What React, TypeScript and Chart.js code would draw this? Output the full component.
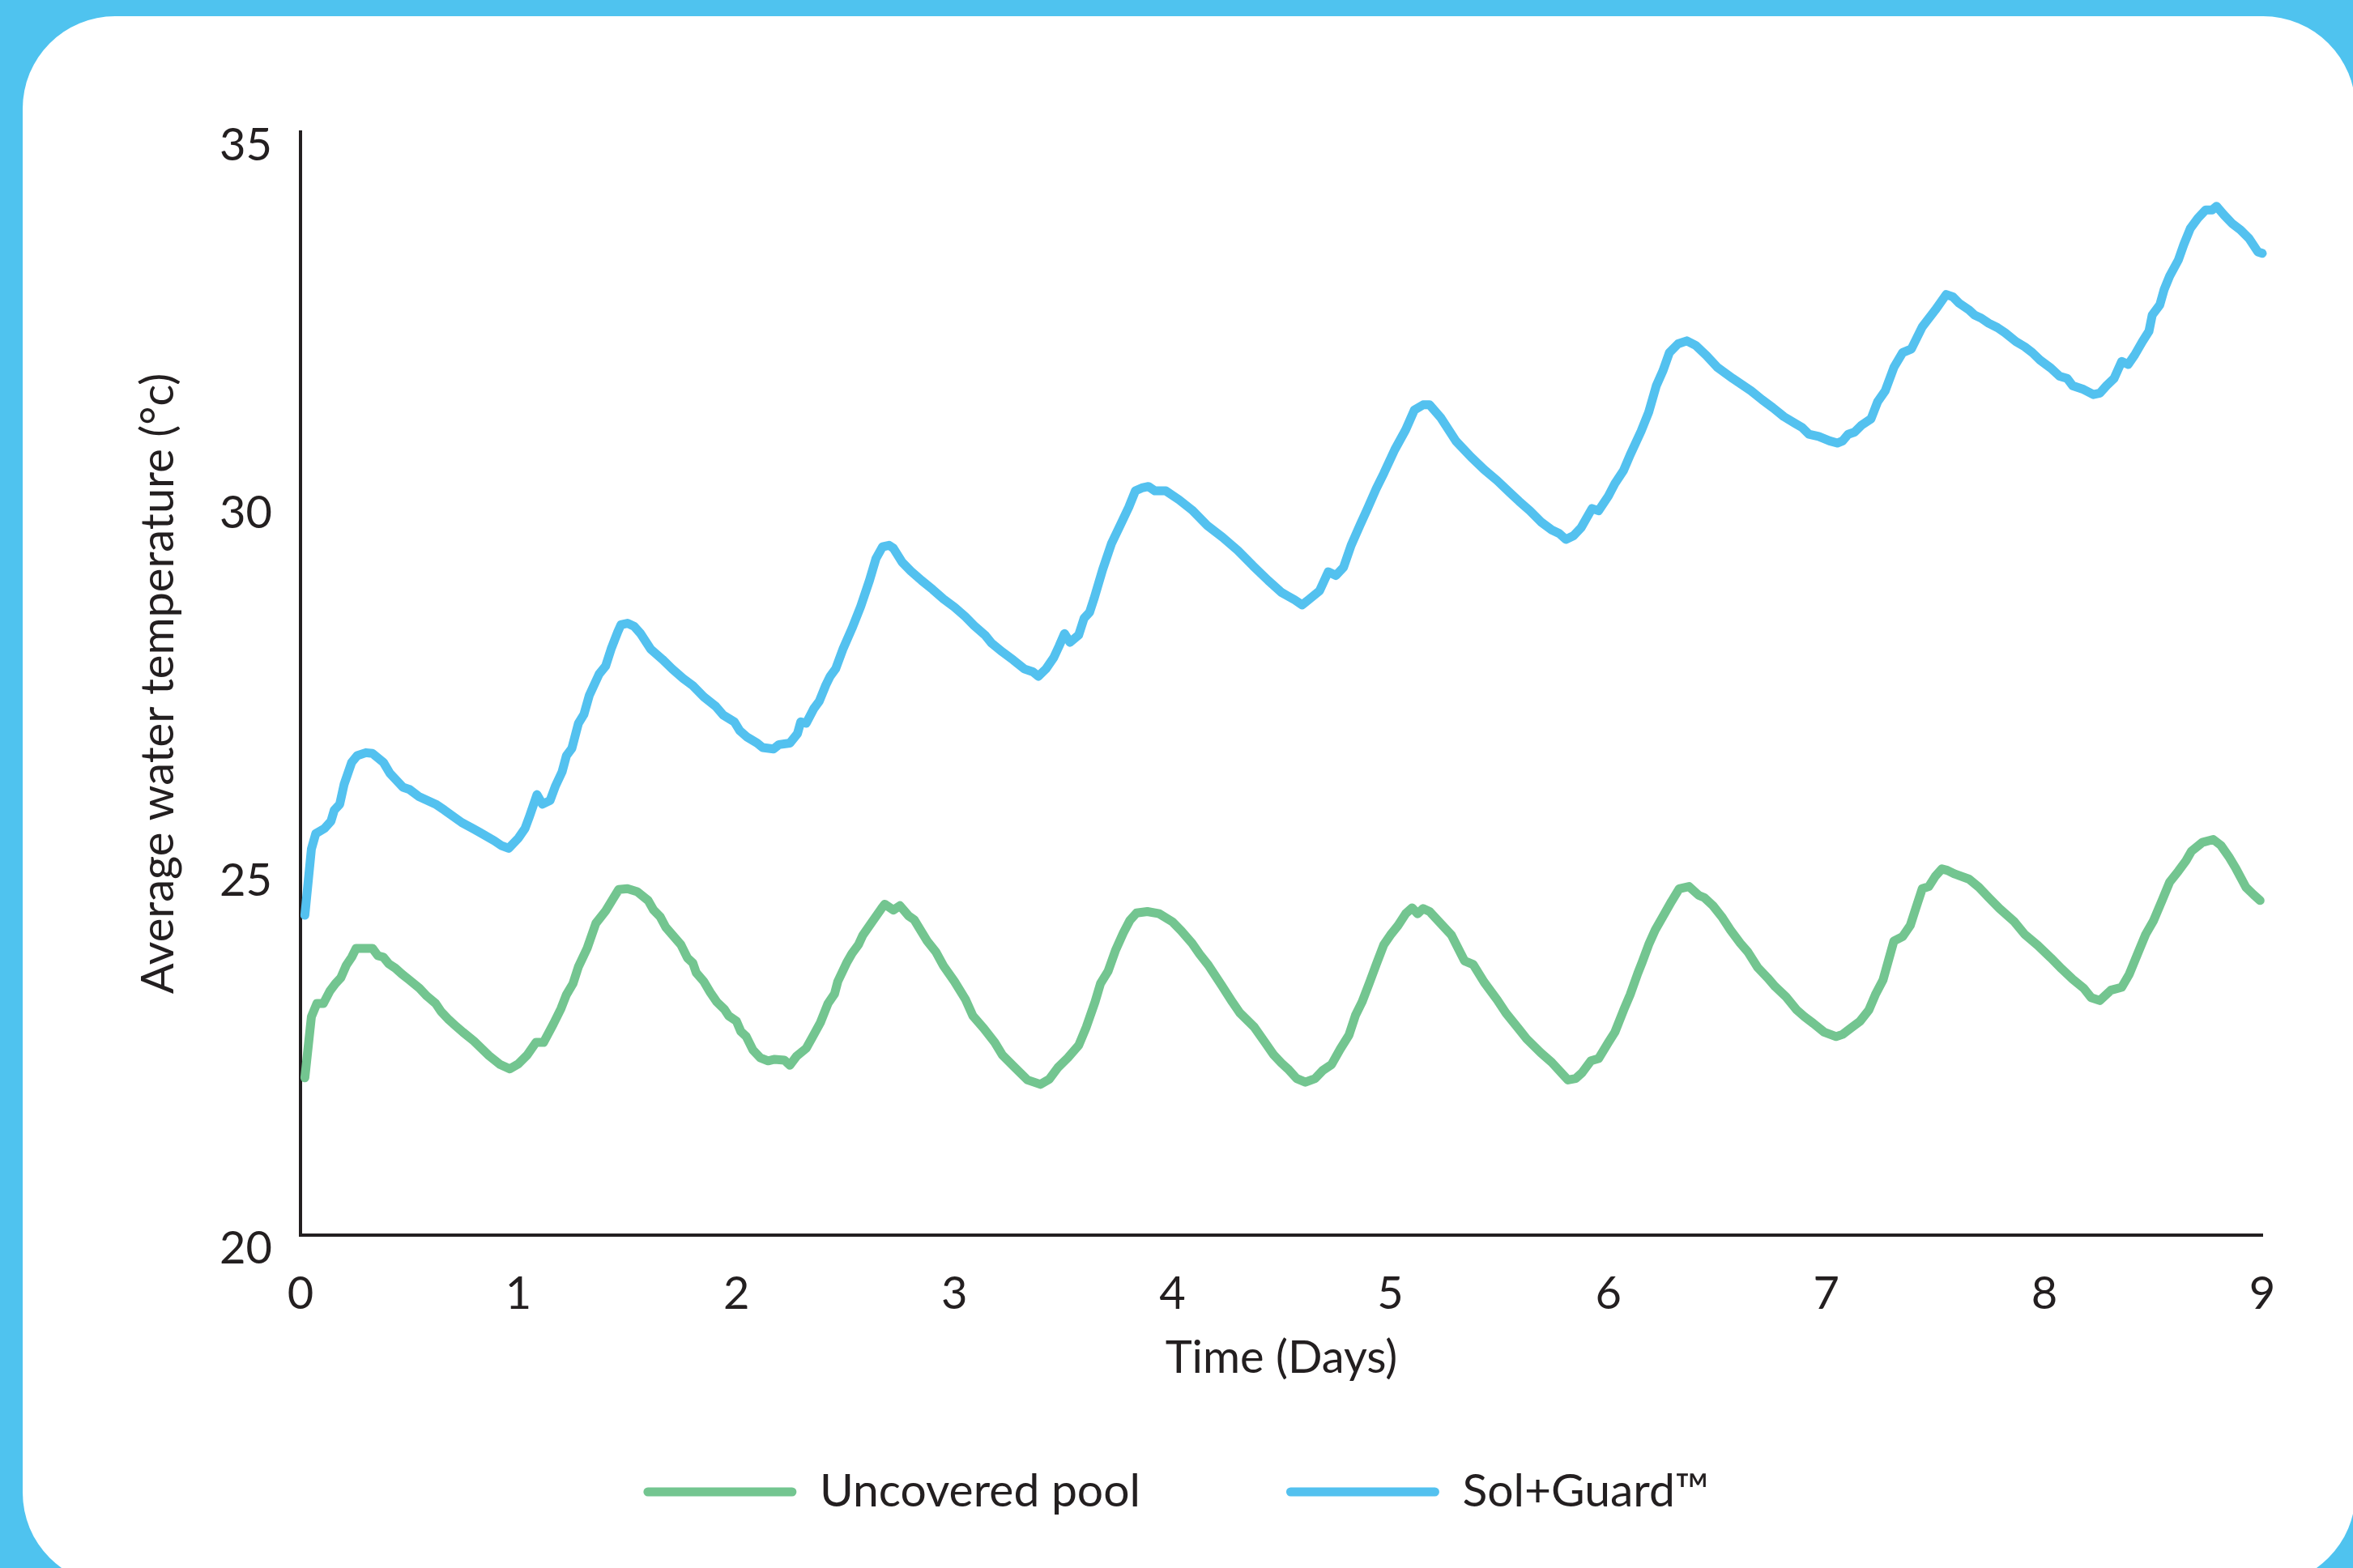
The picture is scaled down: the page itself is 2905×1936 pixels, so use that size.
import React, { useEffect, useRef } from "react";
import { Chart, registerables } from "chart.js";

Chart.register(...registerables);

// Time (days) and average water temperature (°C)
const solGuardDays = [
  0.02, 0.05, 0.07, 0.11, 0.14, 0.155, 0.18, 0.2, 0.235, 0.26, 0.3, 0.33, 0.38, 0.41, 0.47, 0.5, 0.545, 0.62, 0.66, 0.74,
  0.79, 0.82, 0.89, 0.92, 0.955, 1.0, 1.03, 1.05, 1.085, 1.11, 1.145, 1.17, 1.2, 1.22, 1.245, 1.275, 1.3, 1.325, 1.37, 1.4,
  1.425, 1.455, 1.47, 1.5, 1.53, 1.56, 1.606, 1.66, 1.705, 1.755, 1.8, 1.85, 1.905, 1.94, 1.99, 2.015, 2.05, 2.095, 2.12, 2.17,
  2.195, 2.245, 2.28, 2.295, 2.32, 2.355, 2.38, 2.41, 2.43, 2.455, 2.49, 2.53, 2.57, 2.61, 2.64, 2.67, 2.7, 2.72, 2.76, 2.8,
  2.85, 2.9, 2.95, 3.0, 3.05, 3.09, 3.14, 3.17, 3.22, 3.27, 3.32, 3.36, 3.385, 3.42, 3.455, 3.48, 3.505, 3.53, 3.57, 3.595,
  3.62, 3.64, 3.68, 3.72, 3.76, 3.8, 3.83, 3.86, 3.89, 3.92, 3.97, 4.03, 4.09, 4.16, 4.23, 4.3, 4.37, 4.44, 4.5, 4.53,
  4.56, 4.595, 4.625, 4.675, 4.715, 4.75, 4.785, 4.82, 4.86, 4.895, 4.935, 4.97, 5.02, 5.07, 5.11, 5.15, 5.18, 5.23, 5.3, 5.37,
  5.43, 5.49, 5.55, 5.59, 5.64, 5.69, 5.74, 5.775, 5.805, 5.84, 5.875, 5.925, 5.955, 6.0, 6.03, 6.07, 6.1, 6.15, 6.185, 6.22,
  6.25, 6.28, 6.32, 6.36, 6.4, 6.45, 6.5, 6.57, 6.655, 6.705, 6.755, 6.805, 6.855, 6.89, 6.92, 6.965, 7.015, 7.05, 7.075, 7.1,
  7.13, 7.16, 7.205, 7.235, 7.27, 7.31, 7.35, 7.39, 7.44, 7.5, 7.55, 7.58, 7.61, 7.655, 7.68, 7.71, 7.745, 7.785, 7.82, 7.87,
  7.91, 7.945, 7.98, 8.03, 8.07, 8.105, 8.13, 8.18, 8.225, 8.255, 8.285, 8.32, 8.355, 8.385, 8.415, 8.45, 8.48, 8.495, 8.53, 8.55,
  8.575, 8.615, 8.64, 8.67, 8.705, 8.74, 8.77, 8.79, 8.825, 8.86, 8.9, 8.94, 8.98, 9.0,
];
const solGuardTemps = [
  24.35, 25.25, 25.46, 25.53, 25.63, 25.78, 25.86, 26.13, 26.43, 26.52, 26.56, 26.55, 26.43, 26.28, 26.09, 26.06, 25.96, 25.86, 25.78, 25.61,
  25.53, 25.48, 25.36, 25.3, 25.26, 25.4, 25.53, 25.69, 25.99, 25.86, 25.91, 26.11, 26.3, 26.52, 26.62, 26.96, 27.08, 27.34, 27.63, 27.74,
  27.97, 28.2, 28.3, 28.32, 28.28, 28.18, 27.97, 27.83, 27.7, 27.57, 27.47, 27.32, 27.19, 27.07, 26.98, 26.86, 26.77, 26.69, 26.63, 26.61,
  26.67, 26.69, 26.82, 26.98, 26.96, 27.16, 27.26, 27.48, 27.6, 27.7, 27.98, 28.25, 28.55, 28.9, 29.2, 29.36, 29.38, 29.34, 29.15, 29.03,
  28.9, 28.78, 28.65, 28.54, 28.41, 28.29, 28.16, 28.05, 27.93, 27.82, 27.7, 27.66, 27.6, 27.7, 27.85, 28.01, 28.18, 28.06, 28.16, 28.39,
  28.47, 28.65, 29.05, 29.4, 29.65, 29.9, 30.12, 30.16, 30.18, 30.12, 30.12, 30.0, 29.86, 29.65, 29.49, 29.31, 29.1, 28.9, 28.74, 28.69,
  28.64, 28.57, 28.64, 28.76, 29.02, 28.97, 29.08, 29.38, 29.65, 29.88, 30.15, 30.36, 30.68, 30.95, 31.22, 31.29, 31.29, 31.12, 30.8, 30.58,
  30.41, 30.26, 30.09, 29.98, 29.85, 29.7, 29.59, 29.54, 29.46, 29.51, 29.62, 29.88, 29.85, 30.05, 30.22, 30.4, 30.61, 30.93, 31.19, 31.55,
  31.75, 32.0, 32.12, 32.16, 32.1, 31.96, 31.8, 31.65, 31.48, 31.36, 31.25, 31.13, 31.04, 30.98, 30.89, 30.86, 30.8, 30.77, 30.8, 30.89,
  30.92, 31.01, 31.1, 31.33, 31.48, 31.8, 32.0, 32.05, 32.35, 32.58, 32.79, 32.76, 32.67, 32.58, 32.51, 32.47, 32.4, 32.34, 32.27, 32.15,
  32.08, 32.0, 31.9, 31.79, 31.68, 31.65, 31.55, 31.5, 31.43, 31.45, 31.55, 31.65, 31.88, 31.84, 31.97, 32.15, 32.29, 32.51, 32.65, 32.86,
  33.04, 33.26, 33.47, 33.69, 33.83, 33.94, 33.94, 33.99, 33.87, 33.76, 33.67, 33.55, 33.37, 33.35,
];

const uncoveredDays = [
  0.02, 0.05, 0.075, 0.105, 0.135, 0.16, 0.185, 0.21, 0.235, 0.255, 0.3, 0.33, 0.355, 0.38, 0.405, 0.435, 0.465, 0.495, 0.545, 0.58,
  0.62, 0.645, 0.68, 0.71, 0.745, 0.795, 0.865, 0.915, 0.96, 1.0, 1.04, 1.08, 1.115, 1.16, 1.195, 1.22, 1.25, 1.275, 1.315, 1.355,
  1.4, 1.435, 1.46, 1.5, 1.545, 1.595, 1.62, 1.65, 1.675, 1.745, 1.775, 1.8, 1.815, 1.85, 1.88, 1.91, 1.945, 1.965, 2.0, 2.02,
  2.045, 2.075, 2.11, 2.145, 2.175, 2.22, 2.245, 2.275, 2.32, 2.35, 2.385, 2.42, 2.45, 2.465, 2.505, 2.53, 2.56, 2.58, 2.62, 2.665,
  2.68, 2.72, 2.75, 2.79, 2.815, 2.85, 2.875, 2.915, 2.95, 3.0, 3.05, 3.085, 3.135, 3.185, 3.22, 3.27, 3.335, 3.395, 3.435, 3.475,
  3.52, 3.57, 3.605, 3.645, 3.67, 3.705, 3.74, 3.775, 3.805, 3.835, 3.885, 3.94, 4.0, 4.04, 4.09, 4.125, 4.165, 4.225, 4.275, 4.31,
  4.375, 4.425, 4.465, 4.5, 4.53, 4.57, 4.61, 4.655, 4.69, 4.73, 4.77, 4.81, 4.84, 4.87, 4.905, 4.935, 4.97, 5.0, 5.035, 5.07,
  5.1, 5.125, 5.15, 5.18, 5.23, 5.28, 5.34, 5.38, 5.43, 5.49, 5.53, 5.59, 5.625, 5.69, 5.74, 5.79, 5.815, 5.85, 5.88, 5.92,
  5.955, 6.0, 6.03, 6.07, 6.1, 6.135, 6.155, 6.185, 6.215, 6.25, 6.29, 6.325, 6.37, 6.415, 6.44, 6.48, 6.52, 6.56, 6.605, 6.64,
  6.685, 6.73, 6.765, 6.815, 6.865, 6.9, 6.94, 6.99, 7.045, 7.075, 7.115, 7.155, 7.195, 7.225, 7.26, 7.31, 7.35, 7.385, 7.41, 7.44,
  7.47, 7.5, 7.53, 7.555, 7.59, 7.655, 7.7, 7.745, 7.795, 7.86, 7.91, 7.97, 8.03, 8.08, 8.13, 8.18, 8.215, 8.255, 8.305, 8.355,
  8.39, 8.43, 8.465, 8.5, 8.54, 8.575, 8.615, 8.65, 8.675, 8.725, 8.775, 8.81, 8.85, 8.88, 8.925, 8.96, 8.99,
];
const uncoveredTemps = [
  22.14, 22.97, 23.15, 23.15, 23.32, 23.42, 23.5, 23.67, 23.78, 23.9, 23.9, 23.9, 23.8, 23.78, 23.69, 23.63, 23.55, 23.48, 23.36, 23.25,
  23.15, 23.04, 22.93, 22.85, 22.76, 22.64, 22.44, 22.32, 22.26, 22.33, 22.45, 22.62, 22.62, 22.87, 23.08, 23.27, 23.42, 23.65, 23.9, 24.24,
  24.41, 24.58, 24.7, 24.71, 24.67, 24.55, 24.42, 24.33, 24.19, 23.95, 23.77, 23.7, 23.57, 23.45, 23.3, 23.17, 23.07, 22.98, 22.91, 22.77,
  22.7, 22.52, 22.41, 22.37, 22.39, 22.38, 22.31, 22.43, 22.54, 22.7, 22.89, 23.15, 23.28, 23.45, 23.7, 23.83, 23.95, 24.08, 24.25, 24.44,
  24.5, 24.42, 24.48, 24.34, 24.29, 24.12, 24.0, 23.85, 23.66, 23.45, 23.21, 22.98, 22.81, 22.62, 22.45, 22.3, 22.11, 22.05, 22.12, 22.28,
  22.41, 22.58, 22.83, 23.17, 23.42, 23.59, 23.88, 24.11, 24.28, 24.38, 24.4, 24.37, 24.26, 24.14, 23.97, 23.82, 23.67, 23.4, 23.17, 23.02,
  22.83, 22.62, 22.45, 22.34, 22.26, 22.13, 22.08, 22.13, 22.24, 22.32, 22.53, 22.72, 22.99, 23.17, 23.44, 23.68, 23.95, 24.08, 24.21, 24.37,
  24.45, 24.37, 24.44, 24.4, 24.24, 24.08, 23.73, 23.68, 23.44, 23.2, 23.02, 22.8, 22.67, 22.48, 22.35, 22.19, 22.11, 22.13, 22.21, 22.37,
  22.4, 22.62, 22.76, 23.06, 23.27, 23.56, 23.71, 23.95, 24.15, 24.33, 24.54, 24.71, 24.74, 24.62, 24.59, 24.48, 24.33, 24.15, 23.97, 23.85,
  23.64, 23.5, 23.38, 23.24, 23.06, 22.97, 22.88, 22.76, 22.7, 22.73, 22.82, 22.91, 23.06, 23.27, 23.47, 24.0, 24.06, 24.21, 24.44, 24.71,
  24.74, 24.88, 24.98, 24.96, 24.91, 24.84, 24.73, 24.59, 24.44, 24.27, 24.09, 23.94, 23.77, 23.62, 23.48, 23.36, 23.23, 23.19, 23.33, 23.37,
  23.55, 23.84, 24.09, 24.27, 24.55, 24.8, 24.95, 25.09, 25.22, 25.34, 25.38, 25.3, 25.13, 24.98, 24.73, 24.63, 24.55,
];

const xTickValues = [0, 1, 2, 3, 4, 5, 6, 7, 8, 9];
const yTickValues = [20, 25, 30, 35];

const seriesLabels = ["Uncovered pool", "Sol+Guard™"];
const xTitle = "Time (Days)";
const yTitle = "Average water temperature (°c)";

const W = 2905;
const H = 1936;
const FRAME_BLUE = "#4FC3EF";
const LINE_BLUE = "#53C1EF";
const GREEN = "#73C590";
const INK = "#231F20";
const FAMILY = "Lato";

export default function App() {
  const ref = useRef<HTMLCanvasElement | null>(null);

  useEffect(() => {
    document.body.style.margin = "0";
    const canvas = ref.current;
    if (!canvas) return;

    const framePlugin = {
      id: "frame",
      beforeDraw(chart: any) {
        const c = chart.ctx as CanvasRenderingContext2D;
        c.save();
        c.fillStyle = FRAME_BLUE;
        c.fillRect(0, 0, W, H);
        c.fillStyle = "#ffffff";
        c.beginPath();
        (c as any).roundRect(28, 20, 2880, 1937, 114);
        c.fill();
        c.restore();
      },
    };

    const lineStyle = {
      borderWidth: 11,
      pointRadius: 0,
      pointHoverRadius: 0,
      tension: 0,
      borderCapStyle: "round" as const,
      borderJoinStyle: "round" as const,
      clip: false as const,
      fill: false,
    };

    const chart = new Chart(canvas, {
      type: "line",
      data: {
        datasets: [
          {
            label: seriesLabels[0],
            data: uncoveredDays.map((x, i) => ({ x, y: uncoveredTemps[i] })),
            borderColor: GREEN,
            backgroundColor: GREEN,
            ...lineStyle,
          },
          {
            label: seriesLabels[1],
            data: solGuardDays.map((x, i) => ({ x, y: solGuardTemps[i] })),
            borderColor: LINE_BLUE,
            backgroundColor: LINE_BLUE,
            ...lineStyle,
          },
        ],
      },
      options: {
        responsive: false,
        animation: false,
        devicePixelRatio: 1,
        events: [],
        layout: { padding: { left: 112, right: 112, top: 163, bottom: 55.5 } },
        scales: {
          x: {
            type: "linear",
            min: 0,
            max: 9,
            afterBuildTicks: (scale: any) => {
              scale.ticks = xTickValues.map((v) => ({ value: v }));
            },
            afterFit: (scale: any) => {
              scale.height = 108.5;
            },
            grid: { display: false, drawTicks: false },
            border: { display: true, color: INK, width: 4 },
            ticks: {
              font: { family: FAMILY, size: 56 },
              color: INK,
              padding: 39,
              maxRotation: 0,
              autoSkip: false,
            },
            title: {
              display: true,
              text: xTitle,
              font: { family: FAMILY, size: 56 },
              color: INK,
              padding: { top: 0, bottom: -77.1 },
            },
          },
          y: {
            type: "linear",
            min: 20,
            max: 35,
            afterBuildTicks: (scale: any) => {
              scale.ticks = yTickValues.map((v) => ({ value: v }));
            },
            afterFit: (scale: any) => {
              scale.width = 259;
            },
            grid: { display: false, drawTicks: false },
            border: { display: true, color: INK, width: 4 },
            ticks: {
              font: { family: FAMILY, size: 56 },
              color: INK,
              padding: 35,
              labelOffset: 17,
            },
            title: {
              display: true,
              text: yTitle,
              font: { family: FAMILY, size: 56 },
              color: INK,
              padding: { top: 50, bottom: 0 },
            },
          },
        },
        plugins: {
          tooltip: { enabled: false },
          legend: {
            display: true,
            position: "bottom",
            labels: {
              font: { family: FAMILY, size: 57 },
              color: INK,
              padding: 180,
              boxWidth: 189,
              boxHeight: 11,
              generateLabels: (ch: any) =>
                ch.data.datasets.map((d: any, i: number) => ({
                  text: d.label,
                  fillStyle: d.borderColor,
                  strokeStyle: d.borderColor,
                  lineWidth: 0,
                  borderRadius: 5.5,
                  fontColor: INK,
                  hidden: false,
                  datasetIndex: i,
                })),
            },
          },
        },
      },
      plugins: [framePlugin],
    } as any);

    return () => {
      chart.destroy();
    };
  }, []);

  return (
    <canvas
      ref={ref}
      width={W}
      height={H}
      style={{ display: "block", width: W, height: H }}
    />
  );
}
